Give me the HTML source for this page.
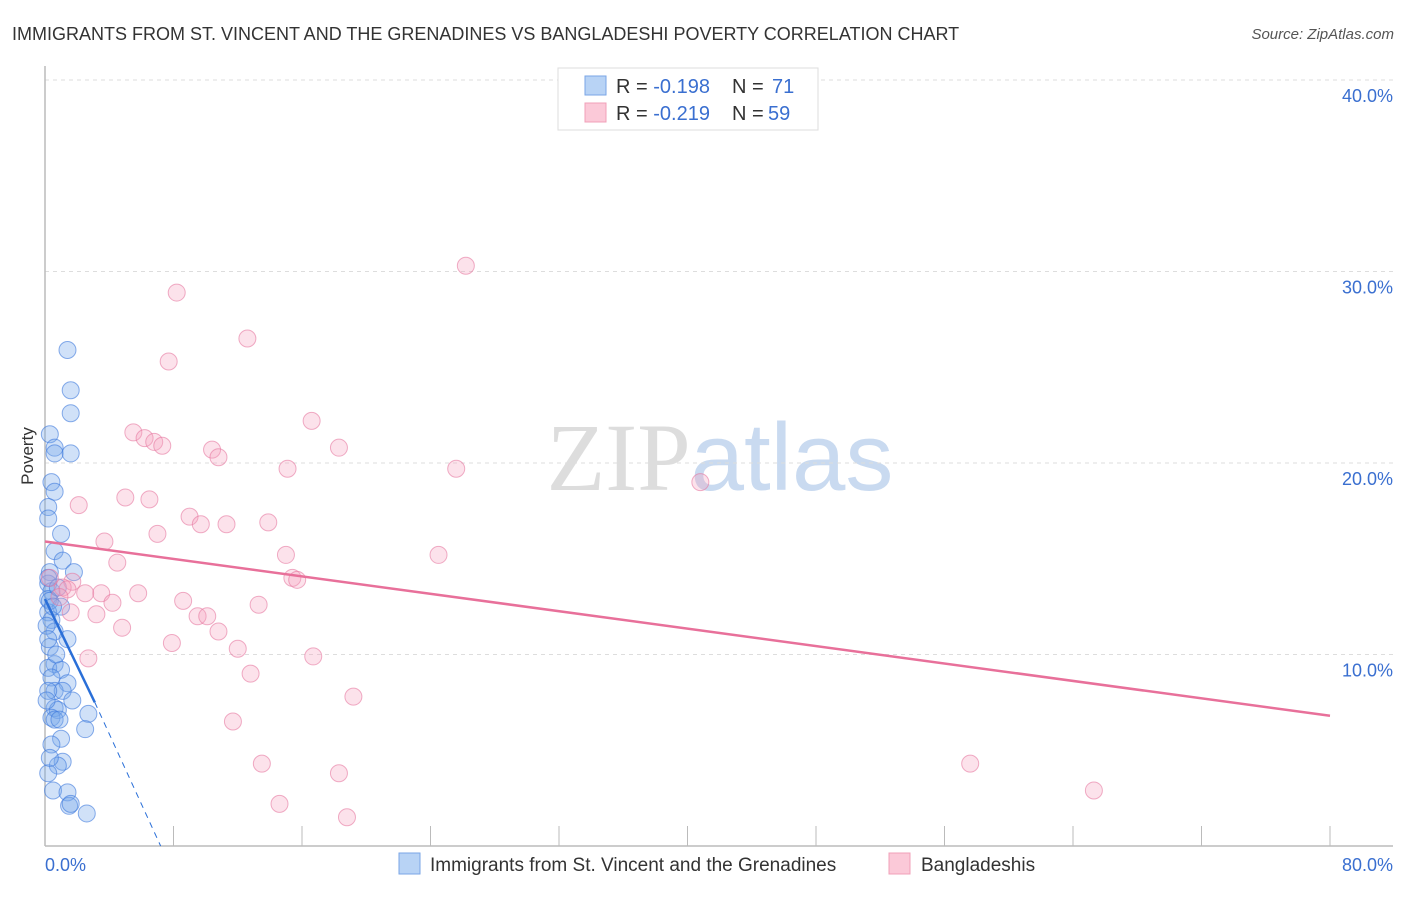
<!DOCTYPE html>
<html><head><meta charset="utf-8"><style>
body{margin:0;background:#fff;font-family:"Liberation Sans",sans-serif;}
</style></head><body>
<svg id="chart" width="1406" height="892" xmlns="http://www.w3.org/2000/svg" style="font-family:'Liberation Sans',sans-serif">
<text x="12" y="40" font-size="18" fill="#333">IMMIGRANTS FROM ST. VINCENT AND THE GRENADINES VS BANGLADESHI POVERTY CORRELATION CHART</text>
<text x="1394" y="39" font-size="15" fill="#555" text-anchor="end" font-style="italic">Source: ZipAtlas.com</text>
<text x="720" y="490" font-size="96" text-anchor="middle"><tspan fill="#ddd" font-family="Liberation Serif">ZIP</tspan><tspan fill="#c9daf0">atlas</tspan></text>
<g id="grid"></g><g id="axes"></g><g id="pts"></g><g id="lines"></g>
<text transform="translate(33,456) rotate(-90)" font-size="17" fill="#333" text-anchor="middle">Poverty</text>
<g>
<rect x="558" y="68" width="260" height="62" fill="#fff" stroke="#ddd"/>
<rect x="585" y="76" width="21" height="19" fill="#b8d3f5" stroke="#7aa6e6"/>
<rect x="585" y="103" width="21" height="19" fill="#fbc9d8" stroke="#f0a0b8"/>
<text x="616" y="93" font-size="20" fill="#333">R = <tspan fill="#3a6fd0">-0.198</tspan><tspan x="732">N = </tspan><tspan x="772" fill="#3a6fd0">71</tspan></text>
<text x="616" y="120" font-size="20" fill="#333">R = <tspan fill="#3a6fd0">-0.219</tspan><tspan x="732">N = </tspan><tspan x="768" fill="#3a6fd0">59</tspan></text>
</g>
<g>
<rect x="399" y="853" width="21" height="21" fill="#b8d3f5" stroke="#7aa6e6"/>
<text x="430" y="871" font-size="19" fill="#333">Immigrants from St. Vincent and the Grenadines</text>
<rect x="889" y="853" width="21" height="21" fill="#fbc9d8" stroke="#f0a0b8"/>
<text x="921" y="871" font-size="19" fill="#333">Bangladeshis</text>
</g>
</svg>
<script>
const blueX=[1.4,1.6,1.6,0.3,0.6,0.6,1.6,0.4,0.6,0.2,0.2,1.0,0.6,1.1,0.3,1.8,0.2,0.4,0.2,1.0,0.2,0.4,0.6,1.4,0.3,0.6,0.2,1.0,0.4,1.4,0.6,1.1,0.2,1.7,0.6,0.8,0.4,0.6,2.7,2.5,1.0,0.4,1.1,0.8,0.2,0.5,1.4,1.5,1.6,2.6,0.2,0.3,0.5,0.8,0.1,0.2,0.7,0.1,0.9,0.3];
const blueY=[25.9,23.8,22.6,21.5,20.8,20.5,20.5,19.0,18.5,17.7,17.1,16.3,15.4,14.9,14.3,14.3,13.7,13.3,12.9,12.5,12.2,11.8,11.2,10.8,10.4,9.5,9.3,9.2,8.8,8.5,8.1,8.1,8.1,7.6,7.2,7.1,6.7,6.6,6.9,6.1,5.6,5.3,4.4,4.2,3.8,2.9,2.8,2.1,2.2,1.7,14.0,12.8,12.5,13.5,11.5,10.8,10.0,7.6,6.6,4.6];
const pinkX=[26.2,8.2,12.6,7.7,16.6,5.5,6.2,6.8,7.3,18.3,10.4,10.8,15.1,25.6,40.8,5.0,6.5,2.1,9.0,7.0,9.7,11.3,13.9,3.7,15.0,24.5,4.5,15.4,15.7,1.7,1.1,1.4,3.5,5.8,2.5,4.2,8.6,13.3,1.6,3.2,9.5,10.1,4.8,10.8,7.9,12.0,16.7,2.7,12.8,19.2,11.7,13.5,18.3,57.6,65.3,14.6,18.8,0.9,0.3];
const pinkY=[30.3,28.9,26.5,25.3,22.2,21.6,21.3,21.1,20.9,20.8,20.7,20.3,19.7,19.7,19.0,18.2,18.1,17.8,17.2,16.3,16.8,16.8,16.9,15.9,15.2,15.2,14.8,14.0,13.9,13.8,13.5,13.4,13.2,13.2,13.2,12.7,12.8,12.6,12.2,12.1,12.0,12.0,11.4,11.2,10.6,10.3,9.9,9.8,9.0,7.8,6.5,4.3,3.8,4.3,2.9,2.2,1.5,13.0,14.0];
const blueTrend=[0,12.9,3.1,7.5];
const blueDash=[3.1,7.5,7.2,0];
const pinkTrend=[0,15.9,80,6.8];
const yTicks=[10,20,30,40];
const xTicks=[0,8,16,24,32,40,48,56,64,72,80];
const X0=45,X1=1330,Y0=846,Y1=80;
const sx=v=>X0+v*(X1-X0)/80, sy=v=>Y0-v*(Y0-Y1)/40;
const NS='http://www.w3.org/2000/svg';
function mk(p,t,a){const e=document.createElementNS(NS,t);for(const k in a)e.setAttribute(k,a[k]);p.appendChild(e);return e;}
const grid=document.getElementById('grid'),axes=document.getElementById('axes'),pts=document.getElementById('pts'),lines=document.getElementById('lines');
yTicks.forEach(v=>{
 const g=mk(grid,'line',{x1:X0,x2:1393,y1:sy(v),y2:sy(v),stroke:'#ddd','stroke-dasharray':'4,4'});
 
 
 const t=mk(axes,'text',{x:1393,y:sy(v)+22,'font-size':18,fill:'#3a6fd0','text-anchor':'end'});
 t.textContent=v.toFixed(1)+'%';
 
 
});
const ax=mk(axes,'line',{x1:X0,x2:1393,y1:Y0,y2:Y0,stroke:'#bbb','stroke-width':1.5});


const ay=mk(axes,'line',{x1:X0,x2:X0,y1:66,y2:Y0,stroke:'#bbb','stroke-width':1.5});


xTicks.forEach(v=>{
 const l=mk(axes,'line',{x1:sx(v),x2:sx(v),y1:Y0,y2:Y0-20,stroke:'#bbb'});
 
 
});
[[0,'start'],[80,'end']].forEach(([v,a])=>{
 const t=mk(axes,'text',{x:v==0?45:1393,y:871,'font-size':18,fill:'#3a6fd0','text-anchor':a});
 t.textContent=v.toFixed(1)+'%';
 
 
});
blueX.forEach((v,i)=>{
 const c=mk(pts,'circle',{cx:sx(v),cy:sy(blueY[i]),r:8.5,fill:'rgba(120,170,235,0.35)',stroke:'rgba(60,120,220,0.6)'});
 
 
});
pinkX.forEach((v,i)=>{
 const c=mk(pts,'circle',{cx:sx(v),cy:sy(pinkY[i]),r:8.5,fill:'rgba(245,160,190,0.3)',stroke:'rgba(230,120,160,0.6)'});
 
 
});
const bt=mk(lines,'line',{x1:sx(blueTrend[0]),y1:sy(blueTrend[1]),x2:sx(blueTrend[2]),y2:sy(blueTrend[3]),stroke:'#2a6fd8','stroke-width':2.5});


const bd=mk(lines,'line',{x1:sx(blueDash[0]),y1:sy(blueDash[1]),x2:sx(blueDash[2]),y2:sy(blueDash[3]),stroke:'#2a6fd8','stroke-width':1,'stroke-dasharray':'6,5'});


const pt=mk(lines,'line',{x1:sx(pinkTrend[0]),y1:sy(pinkTrend[1]),x2:sx(pinkTrend[2]),y2:sy(pinkTrend[3]),stroke:'#e8709a','stroke-width':2.5});


</script>
</body></html>
